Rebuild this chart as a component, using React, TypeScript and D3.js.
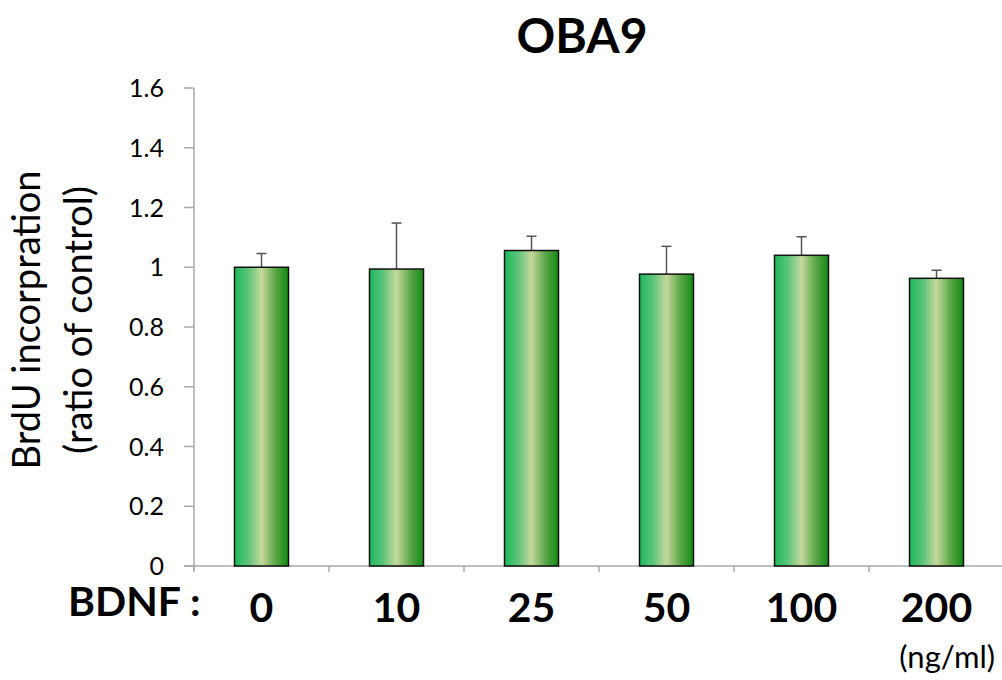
import React from "react";
import * as d3 from "d3";

const categories = ["0", "10", "25", "50", "100", "200"];
const values = [1.0, 0.994, 1.056, 0.977, 1.04, 0.963];
const errors = [0.046, 0.154, 0.048, 0.093, 0.062, 0.027];
const yTicks = [0, 0.2, 0.4, 0.6, 0.8, 1, 1.2, 1.4, 1.6];

const W = 1002;
const H = 680;
const FONT = "Lato, 'Open Sans', sans-serif";

export default function App() {
  const x = d3.scaleBand<string>().domain(categories).range([194, 1004]).paddingInner(0).paddingOuter(0);
  const y = d3.scaleLinear().domain([0, 1.6]).range([566, 88]);
  const bw = 54;
  const y0 = y(0);
  const boundaries = categories.map((c) => x(c)!).concat([x.range()[1]]);

  return (
    <svg width={W} height={H} style={{ position: "absolute", left: 0, top: 0, background: "#fff" }}>
      <defs>
        <linearGradient id="barGrad" x1="0" x2="1" y1="0" y2="0">
          <stop offset="0" stopColor="#1db85c" />
          <stop offset="0.25" stopColor="#5cc47a" />
          <stop offset="0.5" stopColor="#c6d89c" />
          <stop offset="0.75" stopColor="#5fa84a" />
          <stop offset="1" stopColor="#108a12" />
        </linearGradient>
      </defs>
      <text x={582} y={53} textAnchor="middle" fontFamily={FONT} fontWeight="bold" fontSize={48} fill="#000">
        OBA9
      </text>
      {/* y axis */}
      <line x1={194} x2={194} y1={y(1.6)} y2={y0 + 5} stroke="#aaa" strokeWidth={1.5} />
      {yTicks.map((t) => (
        <g key={t}>
          <line x1={184} x2={194} y1={y(t)} y2={y(t)} stroke="#aaa" strokeWidth={1.5} />
          <text x={164} y={y(t)} dy="0.36em" textAnchor="end" fontFamily={FONT} fontSize={25} fill="#000">
            {String(t)}
          </text>
        </g>
      ))}
      {/* x axis */}
      <line x1={184} x2={1004} y1={y0} y2={y0} stroke="#aaa" strokeWidth={1.5} />
      {boundaries.map((b, i) => (
        <line key={i} x1={b} x2={b} y1={y0} y2={y0 + 6} stroke="#aaa" strokeWidth={1.5} />
      ))}
      {/* bars */}
      {categories.map((c, i) => {
        const cx = x(c)! + x.bandwidth() / 2;
        const top = y(values[i]);
        const et = y(values[i] + errors[i]);
        return (
          <g key={c}>
            <line x1={cx} x2={cx} y1={top} y2={et} stroke="#555" strokeWidth={1.5} />
            <line x1={cx - 5} x2={cx + 5} y1={et} y2={et} stroke="#555" strokeWidth={1.5} />
            <rect x={cx - bw / 2} y={top} width={bw} height={y0 - top} fill="url(#barGrad)" stroke="#111" strokeWidth={1.5} />
            <text x={cx} y={622} textAnchor="middle" fontFamily={FONT} fontWeight="bold" fontSize={41} fill="#000">
              {c}
            </text>
          </g>
        );
      })}
      <text x={68} y={616} fontFamily={FONT} fontWeight="bold" fontSize={41} fill="#000">
        BDNF :
      </text>
      <text x={995} y={668} textAnchor="end" fontFamily={FONT} fontSize={31} fill="#000">
        (ng/ml)
      </text>
      <g transform="translate(0,320) rotate(-90)">
        <text x={0} y={40} textAnchor="middle" fontFamily={FONT} fontSize={38} fill="#000">
          BrdU incorpration
        </text>
        <text x={0} y={92} textAnchor="middle" fontFamily={FONT} fontSize={38} fill="#000">
          (ratio of control)
        </text>
      </g>
    </svg>
  );
}
